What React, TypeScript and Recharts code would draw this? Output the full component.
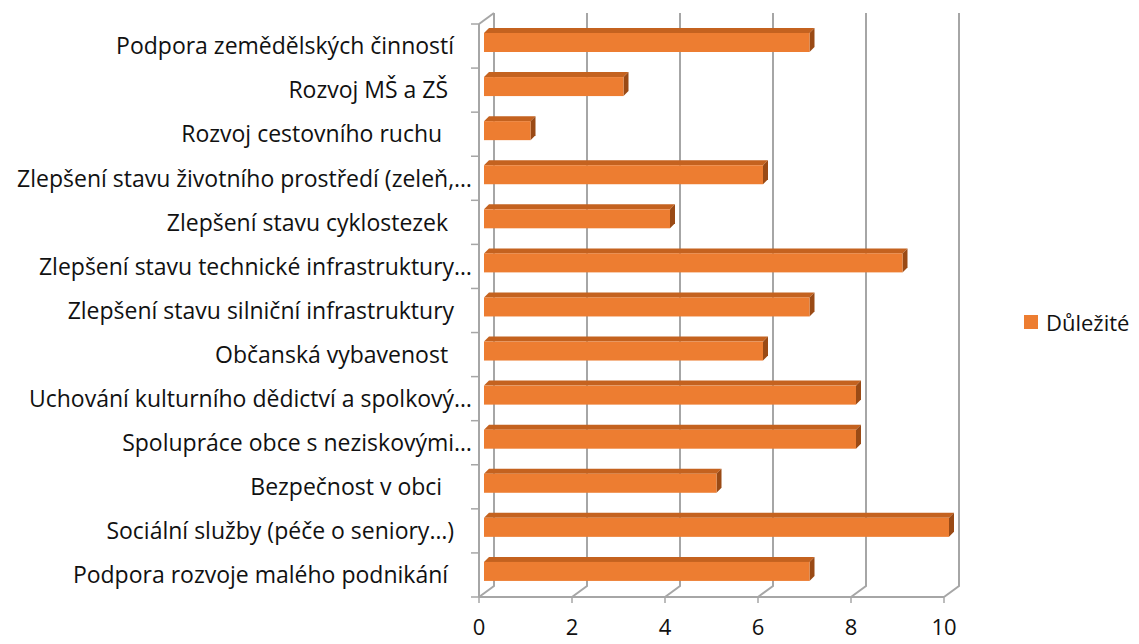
import React from 'react';
import { BarChart, Bar, XAxis, YAxis, CartesianGrid, Legend } from 'recharts';

// category labels (trailing spaces kept as in the source sheet)
const categories = [
  'Podpora zemědělských činností   ',
  'Rozvoj MŠ a ZŠ    ',
  'Rozvoj cestovního ruchu     ',
  'Zlepšení stavu životního prostředí (zeleň,…',
  'Zlepšení stavu cyklostezek    ',
  'Zlepšení stavu technické infrastruktury…',
  'Zlepšení stavu silniční infrastruktury   ',
  'Občanská vybavenost    ',
  'Uchování kulturního dědictví a spolkový…',
  'Spolupráce obce s neziskovými…',
  'Bezpečnost v obci     ',
  'Sociální služby (péče o seniory…)   ',
  'Podpora rozvoje malého podnikání    ',
];
const values = [7, 3, 1, 6, 4, 9, 7, 6, 8, 8, 5, 10, 7];
const xTicks = [0, 2, 4, 6, 8, 10];
const seriesName = 'Důležité';

const data = categories.map((name, i) => ({ name, value: values[i] }));

const FONT = '"Open Sans", Lato, sans-serif';
const GRID = '#A6A6A6';
const ORANGE = '#ED7D31';
const WALL_DX = 15;
const WALL_DY = 11;

// back wall gridline + floor diagonal
const gridLine = (props: any) => {
  const { x1, y1, y2, index } = props;
  const d = `M${x1},${y2} L${x1 + WALL_DX},${y2 - WALL_DY} L${x1 + WALL_DX},${y1 - WALL_DY}`;
  return (
    <g key={`vg-${index}-${x1}`}>
      <path d={d} fill="none" stroke={GRID} strokeWidth={2} />
      {index === 0 && (
        <line x1={x1} y1={y1} x2={x1 + WALL_DX} y2={y1 - WALL_DY} stroke={GRID} strokeWidth={2} />
      )}
    </g>
  );
};

const Bar3D = (props: any) => {
  const { x, y, width, height } = props;
  if (!width) return null;
  const fx = x + 5;
  const fy = y - 4;
  const d = 5;
  return (
    <g>
      <path
        d={`M${fx},${fy} L${fx + d},${fy - d} L${fx + width + d},${fy - d} L${fx + width},${fy} Z`}
        fill="#C4621F"
      />
      <path
        d={`M${fx + width},${fy} L${fx + width + d},${fy - d} L${fx + width + d},${fy + height - d} L${fx + width},${fy + height} Z`}
        fill="#9A4A15"
      />
      <rect x={fx} y={fy} width={width} height={height} fill={ORANGE} />
    </g>
  );
};

const CategoryTick = (props: any) => {
  const { x, y, payload, index, visibleTicksCount } = props;
  const half = payload.offset ?? 22;
  const axisX = x + 7;
  return (
    <g>
      <line x1={axisX - 8} y1={y - half} x2={axisX} y2={y - half} stroke={GRID} strokeWidth={1.5} />
      {index === visibleTicksCount - 1 && (
        <line x1={axisX - 8} y1={y + half} x2={axisX} y2={y + half} stroke={GRID} strokeWidth={1.5} />
      )}
      <text
        x={x}
        y={y}
        dy="0.36em"
        textAnchor="end"
        fill="#111"
        fontSize={23}
        fontFamily={FONT}
        style={{ whiteSpace: 'pre' }}
      >
        {payload.value}
      </text>
    </g>
  );
};

const renderLegend = (props: any) => (
  <div style={{ fontFamily: FONT, fontSize: 22, color: '#111', whiteSpace: 'nowrap' }}>
    {(props.payload || []).map((p: any) => (
      <div key={p.value} style={{ display: 'flex', alignItems: 'center' }}>
        <span
          style={{
            width: 14,
            height: 14,
            flexShrink: 0,
            background: p.color || ORANGE,
            display: 'inline-block',
            marginRight: 8,
          }}
        />
        {p.value}
      </div>
    ))}
  </div>
);

export default function App() {
  return (
    <div style={{ position: 'absolute', left: 0, top: 0, background: '#fff' }}>
      <BarChart
        width={1139}
        height={644}
        data={data}
        layout="vertical"
        margin={{ top: 24, right: 195, bottom: 7, left: 0 }}
      >
        <CartesianGrid horizontal={false} vertical={gridLine} />
        <XAxis
          type="number"
          domain={[0, 10]}
          ticks={xTicks}
          interval={0}
          height={40}
          axisLine={{ stroke: GRID, strokeWidth: 2 }}
          tickLine={{ stroke: GRID, strokeWidth: 1.5 }}
          tickSize={6}
          tickMargin={16}
          tick={{ fill: '#111', fontSize: 22, fontFamily: FONT }}
        />
        <YAxis
          type="category"
          dataKey="name"
          width={479}
          interval={0}
          axisLine={{ stroke: GRID, strokeWidth: 2 }}
          tickLine={false}
          tickSize={0}
          tickMargin={7}
          tick={<CategoryTick />}
        />
        <Legend
          layout="vertical"
          align="right"
          verticalAlign="middle"
          content={renderLegend}
          wrapperStyle={{ left: 1024, top: 307, width: 0, height: 0 }}
        />
        <Bar
          dataKey="value"
          name={seriesName}
          fill={ORANGE}
          barSize={19}
          shape={<Bar3D />}
          isAnimationActive={false}
        />
      </BarChart>
    </div>
  );
}
